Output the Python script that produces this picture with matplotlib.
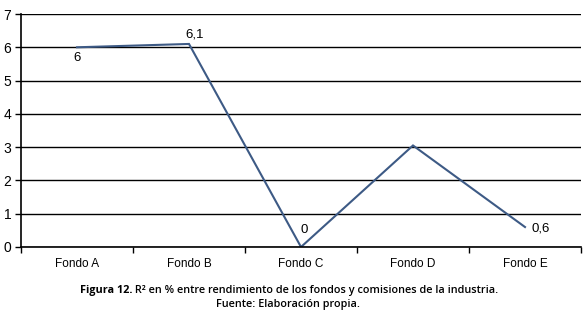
import matplotlib
matplotlib.use("Agg")
import matplotlib.pyplot as plt
from matplotlib import font_manager

categories = ["Fondo A", "Fondo B", "Fondo C", "Fondo D", "Fondo E"]
values = [6.0, 6.1, 0.0, 3.05, 0.6]
labels = ["6", "6,1", "0", None, "0,6"]
yticks = [0, 1, 2, 3, 4, 5, 6, 7]

names = {f.name for f in font_manager.fontManager.ttflist}
narrow = "Liberation Sans Narrow" if "Liberation Sans Narrow" in names else "Liberation Sans"

fig = plt.figure(figsize=(5.88, 3.14), dpi=100)
ax = fig.add_axes([21/588, 1-247/314, 560/588, 233/314])
x = list(range(len(categories)))
ax.plot(x, values, color="#3d5a85", lw=1.5, solid_joinstyle="miter")
ax.set_xlim(-0.5, 4.5)
ax.set_ylim(0, 7)
ax.set_yticks(yticks)
ax.set_yticklabels([str(t) for t in yticks], fontfamily=narrow, fontsize=10)
ax.set_xticks([i - 0.5 for i in range(6)])
ax.set_xticklabels([])
ax.set_xticks(x, minor=True)
ax.set_xticklabels(categories, minor=True, fontfamily=narrow, fontsize=8.5)
ax.tick_params(axis="x", which="minor", length=0, pad=8)
ax.tick_params(axis="x", which="major", length=4, width=1, direction="out")
ax.tick_params(axis="y", length=4, width=1, direction="out", pad=3)
ax.grid(axis="y", color="black", lw=1)
ax.set_axisbelow(True)
for s in ["top", "right"]:
    ax.spines[s].set_visible(False)
for s in ["left", "bottom"]:
    ax.spines[s].set_linewidth(1.2)

offsets = {0: (0, -8, "center", "center"), 1: (4, 7, "center", "center"),
           2: (2, 12, "center", "center"), 4: (5, -1, "left", "center")}
for i, (v, lab) in enumerate(zip(values, labels)):
    if lab is None:
        continue
    dx, dy, ha, va = offsets[i]
    ax.annotate(lab, (i, v), xytext=(dx, dy), textcoords="offset points",
                ha=ha, va=va, fontfamily=narrow, fontsize=9.5)

cap_font = "Open Sans"
fig.canvas.draw()
r = fig.canvas.get_renderer()
t1 = fig.text(0, 0, "Figura 12.", fontsize=7.8, fontweight="bold", fontfamily=cap_font)
t2 = fig.text(0, 0, " R² en % entre rendimiento de los fondos y comisiones de la industria.",
              fontsize=7.8, fontfamily=cap_font, fontweight="semibold")
w1 = t1.get_window_extent(r).width
w2 = t2.get_window_extent(r).width
total = w1 + w2
cx = 289
y1 = 1 - 291/314
x0 = (cx - total/2)
t1.set_position((x0/588, y1)); t1.set_va("center")
t2.set_position(((x0 + w1)/588, y1)); t2.set_va("center")
fig.text(288/588, 1 - 305/314, "Fuente: Elaboración propia.", fontsize=7.8,
         fontfamily=cap_font, fontweight="semibold", ha="center", va="center")

fig.savefig("out.png", dpi=100)
